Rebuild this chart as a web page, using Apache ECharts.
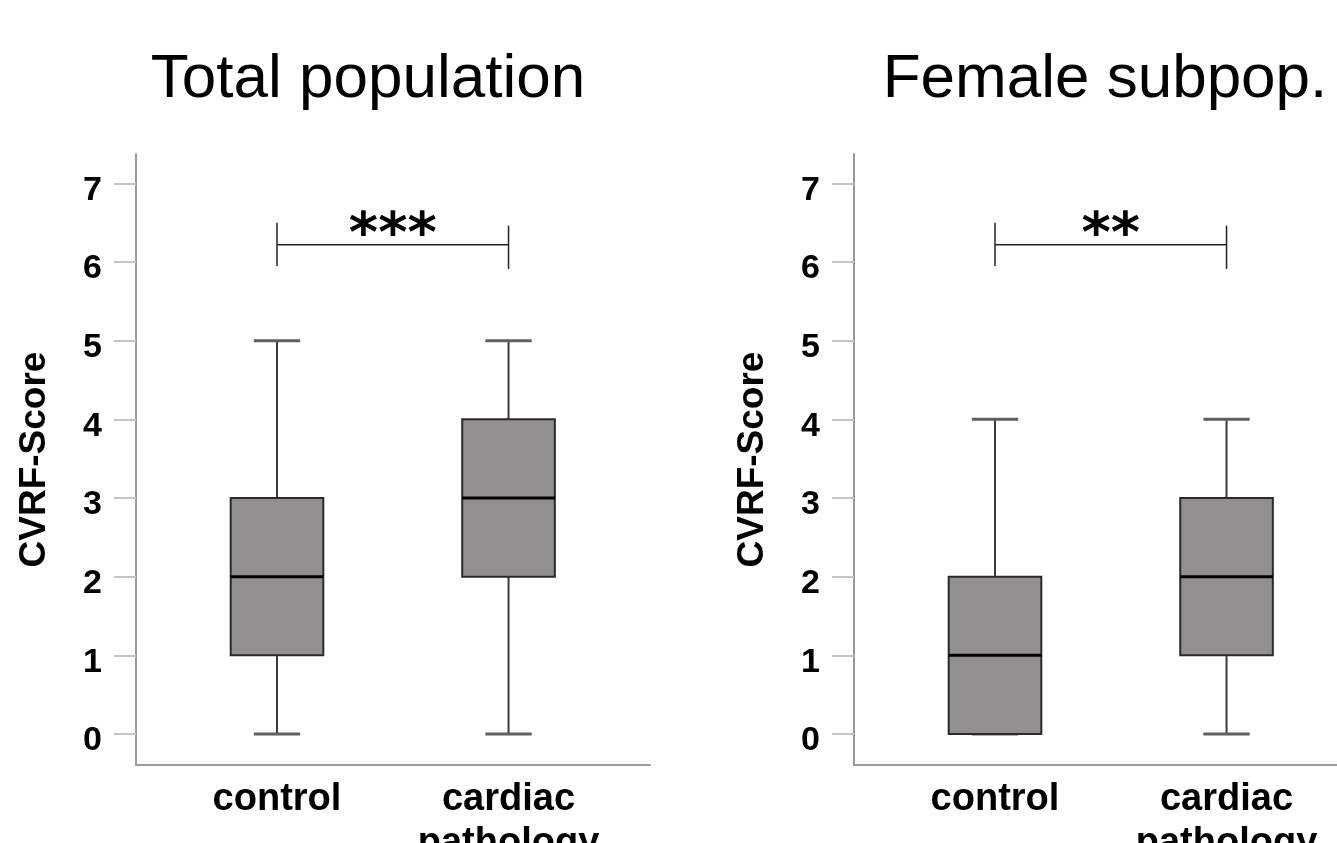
<!DOCTYPE html>
<html>
<head>
<meta charset="utf-8">
<style>html,body{margin:0;padding:0;background:#fff;}#chart{width:1337px;height:843px;}</style>
<script src="https://cdn.jsdelivr.net/npm/echarts@6/dist/echarts.min.js"></script>
</head>
<body>
<div id="chart"></div>
<script>
// ---- data ----
const categories = ['control', 'cardiac\npathology'];
const categoryPositions = [1, 2];
const panelTitles = ['Total population', 'Female subpop.'];
const yAxisName = 'CVRF-Score';
const yTickValues = [0, 1, 2, 3, 4, 5, 6, 7];
// [min, Q1, median, Q3, max]
const totalControl = [0, 1, 2, 3, 5];
const totalCardiac = [0, 2, 3, 4, 5];
const femaleControl = [0, 0, 1, 2, 4];
const femaleCardiac = [0, 1, 2, 3, 4];
const totalSignificance = '***';
const femaleSignificance = '**';
const bracketLevels = [6.22, 5.95, 6.5]; // bar, lower end, upper end

// ---- styling constants ----
const BOX_HALF = 0.2;
const CAP_HALF = 0.1;
const FONT = '"Liberation Sans", Arial, sans-serif';

function boxItem(params, api) {
  const x = api.value(0);
  const mn = api.value(1), q1 = api.value(2), md = api.value(3), q3 = api.value(4), mx = api.value(5);
  const c = v => api.coord([x, v]);
  const cx = c(0)[0];
  const half = api.coord([x + BOX_HALF, 0])[0] - cx;
  const cap = api.coord([x + CAP_HALF, 0])[0] - cx;
  const yMin = c(mn)[1], yQ1 = c(q1)[1], yMd = c(md)[1], yQ3 = c(q3)[1], yMax = c(mx)[1];
  const wStyle = {stroke: '#3a3a3a', lineWidth: 2};
  const capStyle = {stroke: '#5f5f5f', lineWidth: 3};
  return {
    type: 'group',
    children: [
      {type: 'line', shape: {x1: cx, y1: yQ1, x2: cx, y2: yMin}, style: wStyle},
      {type: 'line', shape: {x1: cx, y1: yQ3, x2: cx, y2: yMax}, style: wStyle},
      {type: 'line', shape: {x1: cx - cap, y1: yMin, x2: cx + cap, y2: yMin}, style: capStyle},
      {type: 'line', shape: {x1: cx - cap, y1: yMax, x2: cx + cap, y2: yMax}, style: capStyle},
      {type: 'rect', shape: {x: cx - half, y: yQ3, width: half * 2, height: yQ1 - yQ3},
        style: {fill: '#938f8e', stroke: '#2a2a2a', lineWidth: 2}},
      {type: 'line', shape: {x1: cx - half, y1: yMd, x2: cx + half, y2: yMd}, style: {stroke: '#000', lineWidth: 3}}
    ]
  };
}

function bracketItem(params, api) {
  const x1 = api.value(0), x2 = api.value(1);
  const yb = api.value(2), ylo = api.value(3), yhi = api.value(4);
  const label = params.dataIndex === 0 ? params.seriesName : '';
  const pL = api.coord([x1, yb]), pR = api.coord([x2, yb]);
  const lo = api.coord([x1, ylo])[1], hi = api.coord([x1, yhi])[1];
  const st = {stroke: '#222', lineWidth: 1.5};
  return {
    type: 'group',
    children: [
      {type: 'line', shape: {x1: pL[0], y1: pL[1], x2: pR[0], y2: pR[1]}, style: st},
      {type: 'line', shape: {x1: pL[0], y1: lo, x2: pL[0], y2: hi}, style: st},
      {type: 'line', shape: {x1: pR[0], y1: lo + 3, x2: pR[0], y2: hi + 3}, style: st},
      {type: 'text', x: (pL[0] + pR[0]) / 2, y: pL[1] + 20,
        style: {text: label, font: 'bold 56px "DejaVu Sans", sans-serif', fill: '#000', align: 'center', verticalAlign: 'bottom'}}
    ]
  };
}

const grids = [
  {left: 136, top: 154, width: 514, height: 611, outerBoundsMode: 'none', containLabel: false},
  {left: 854, top: 154, width: 514, height: 611, outerBoundsMode: 'none', containLabel: false}
];

function xAxis(i) {
  return {
    type: 'value', gridIndex: i, min: 0.391, max: 2.611,
    splitLine: {show: false},
    axisLine: {show: true, onZero: false, lineStyle: {color: '#9a9a9a', width: 2}},
    axisTick: {show: false},
    axisLabel: {
      customValues: categoryPositions,
      formatter: v => categories[categoryPositions.indexOf(v)] || '',
      fontFamily: FONT, fontWeight: 'bold', fontSize: 38, color: '#000', lineHeight: 44, margin: 13
    }
  };
}
function yAxis(i) {
  return {
    type: 'value', gridIndex: i, min: -0.394, max: 7.373,
    name: yAxisName, nameLocation: 'middle', nameGap: 83,
    nameTextStyle: {fontFamily: FONT, fontWeight: 'bold', fontSize: 37, color: '#000'},
    splitLine: {show: false},
    axisLine: {show: true, onZero: false, lineStyle: {color: '#9a9a9a', width: 2}},
    axisTick: {show: true, customValues: yTickValues, length: 22, lineStyle: {color: '#c4c4c4', width: 2}},
    axisLabel: {customValues: yTickValues, fontFamily: FONT, fontWeight: 'bold', fontSize: 34, color: '#000',
      margin: 34, verticalAlign: 'top', lineHeight: 14}
  };
}

const option = {
  backgroundColor: '#fff',
  animation: false,
  title: [
    {text: panelTitles[0], left: 363, top: 44, textAlign: 'center',
      textStyle: {fontFamily: FONT, fontSize: 62, fontWeight: 'normal', color: '#000'}},
    {text: panelTitles[1], left: 1100, top: 44, textAlign: 'center',
      textStyle: {fontFamily: FONT, fontSize: 62, fontWeight: 'normal', color: '#000'}}
  ],
  grid: grids,
  xAxis: [xAxis(0), xAxis(1)],
  yAxis: [yAxis(0), yAxis(1)],
  series: [
    {type: 'custom', name: 'total', xAxisIndex: 0, yAxisIndex: 0, renderItem: boxItem,
      data: [[categoryPositions[0], ...totalControl], [categoryPositions[1], ...totalCardiac]]},
    {type: 'custom', name: 'female', xAxisIndex: 1, yAxisIndex: 1, renderItem: boxItem,
      data: [[categoryPositions[0], ...femaleControl], [categoryPositions[1], ...femaleCardiac]]},
    {type: 'custom', name: totalSignificance, xAxisIndex: 0, yAxisIndex: 0, renderItem: bracketItem,
      data: [[categoryPositions[0], categoryPositions[1], ...bracketLevels]]},
    {type: 'custom', name: femaleSignificance, xAxisIndex: 1, yAxisIndex: 1, renderItem: bracketItem,
      data: [[categoryPositions[0], categoryPositions[1], ...bracketLevels]]}
  ]
};
const chart = echarts.init(document.getElementById('chart'), null, {renderer: 'canvas'});
chart.setOption(option);
</script>
</body>
</html>
